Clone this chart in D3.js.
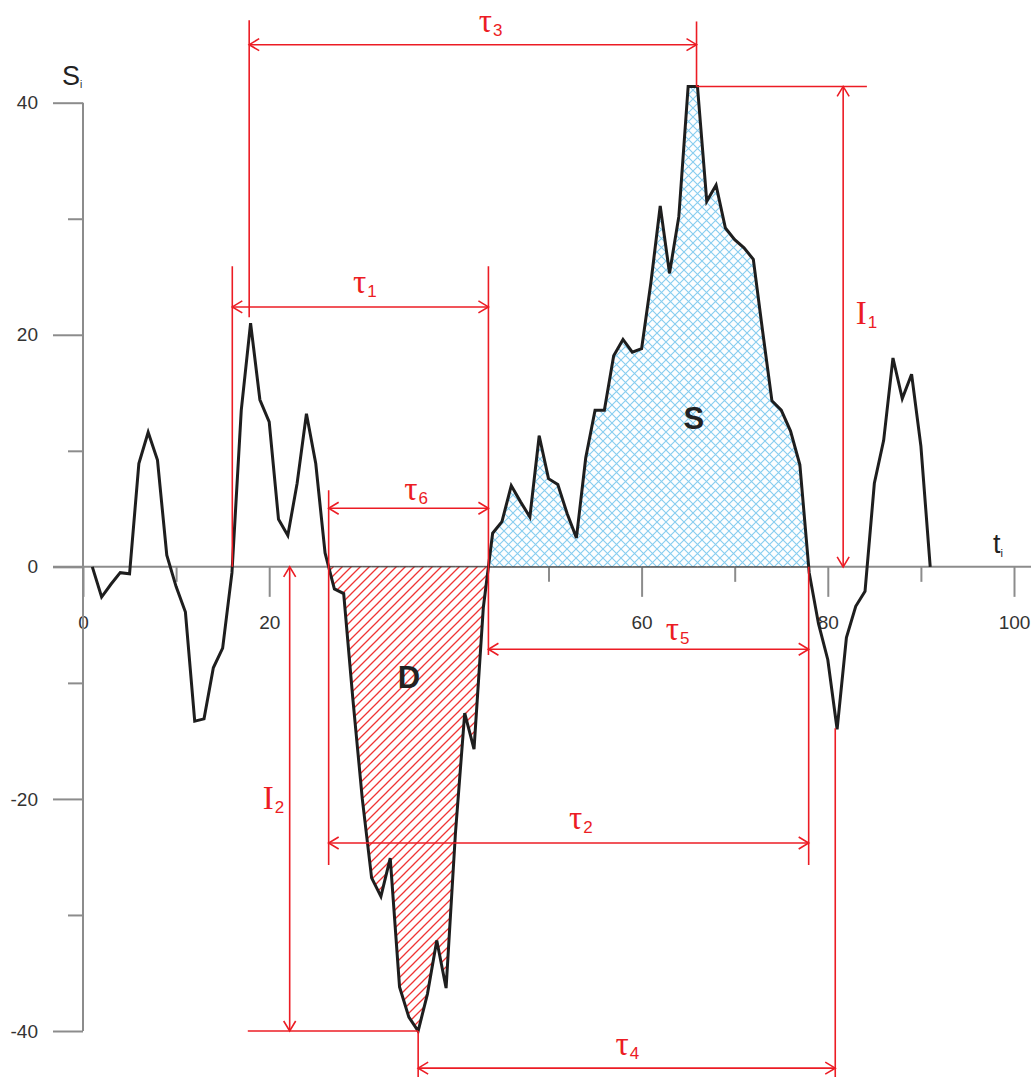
<!DOCTYPE html>
<html>
<head>
<meta charset="utf-8">
<script src="https://cdn.jsdelivr.net/npm/d3@7"></script>
<style>
  body { margin: 0; background: #fff; }
  svg { display: block; }
</style>
</head>
<body>
<div id="chart"></div>
<script>
const width = 1031;
const height = 1077;

// series S_i, one value per t_i = 1..91
const tValues = d3.range(1, 92);
const sValues = [
  0, -2.6, -1.5, -0.5, -0.6, 8.9, 11.6, 9.2, 1.0, -1.7,
  -3.9, -13.3, -13.1, -8.7, -7.0, -0.5, 13.5, 21.0, 14.4, 12.5,
  4.1, 2.7, 7.2, 13.2, 8.9, 1.2, -1.9, -2.3, -11.5, -20.0,
  -26.8, -28.4, -25.1, -36.2, -38.8, -40.0, -36.8, -32.2, -36.3, -23.0,
  -12.6, -15.7, -3.5, 2.9, 3.9, 7.0, 5.6, 4.3, 11.3, 7.6,
  7.1, 4.6, 2.5, 9.4, 13.5, 13.5, 18.2, 19.6, 18.5, 18.8,
  24.5, 31.1, 25.3, 30.2, 41.4, 41.4, 31.5, 32.9, 29.2, 28.2,
  27.5, 26.5, 20.3, 14.3, 13.5, 11.7, 8.8, -0.5, -4.9, -8.0,
  -14.0, -6.1, -3.4, -2.1, 7.2, 10.9, 18.0, 14.5, 16.6, 10.4,
  0
];

const xTicksMajor = [0, 20, 40, 60, 80, 100];
const xTicksMinor = [10, 30, 50, 70, 90];
const yTicksMajor = [-40, -20, 0, 20, 40];
const yTicksMinor = [-30, -10, 10, 30];

const red = "#ec1c24";
const axisGrey = "#8c8c8c";

const x = d3.scaleLinear().domain([0, 100]).range([83, 1014]);
const y = d3.scaleLinear().domain([-40, 40]).range([1031, 102.7]);

const points = tValues.map((t, i) => ({ t: t, s: sValues[i] }));

// zero crossing between t and t+1 (linear)
function zeroCross(t) {
  const a = points.find(p => p.t === t);
  const b = points.find(p => p.t === t + 1);
  return a.t + a.s / (a.s - b.s);
}
function region(t0, t1) {
  const inner = points.filter(p => p.t > t0 && p.t < t1);
  return [{ t: t0, s: 0 }].concat(inner, [{ t: t1, s: 0 }]);
}

const c16 = zeroCross(16), c26 = zeroCross(26), c43 = zeroCross(43), c77 = zeroCross(77);

const svg = d3.select("#chart")
  .append("svg")
  .attr("width", width)
  .attr("height", height);

const defs = svg.append("defs");

const hatchD = defs.append("pattern")
  .attr("id", "hatchD")
  .attr("patternUnits", "userSpaceOnUse")
  .attr("width", 9)
  .attr("height", 9);
hatchD.append("rect").attr("width", 9).attr("height", 9).attr("fill", "#fff");
hatchD.append("path")
  .attr("d", "M-1,1 L1,-1 M0,9 L9,0 M8,10 L10,8")
  .attr("stroke", "#f03434")
  .attr("stroke-width", 1.3);

const crossS = defs.append("pattern")
  .attr("id", "crossS")
  .attr("patternUnits", "userSpaceOnUse")
  .attr("width", 9)
  .attr("height", 9);
crossS.append("rect").attr("width", 9).attr("height", 9).attr("fill", "#fdfeff");
crossS.append("path")
  .attr("d", "M0,0 L9,9 M9,0 L0,9")
  .attr("stroke", "#86cdf0")
  .attr("stroke-width", 1.1);

defs.append("marker")
  .attr("id", "arrow")
  .attr("viewBox", "-13 -8 15 16")
  .attr("refX", 0)
  .attr("refY", 0)
  .attr("markerWidth", 15)
  .attr("markerHeight", 16)
  .attr("markerUnits", "userSpaceOnUse")
  .attr("orient", "auto-start-reverse")
  .append("path")
  .attr("d", "M-10,-6 L0,0 L-10,6")
  .attr("fill", "none")
  .attr("stroke", red)
  .attr("stroke-width", 1.6);

// axes
const plainNum = d => String(d);

const xMajor = svg.append("g")
  .attr("transform", `translate(0,${y(0)})`)
  .call(d3.axisBottom(x).tickValues(xTicksMajor).tickSize(30).tickPadding(19).tickFormat(plainNum));
const xMinor = svg.append("g")
  .attr("transform", `translate(0,${y(0)})`)
  .call(d3.axisBottom(x).tickValues(xTicksMinor).tickSize(15).tickFormat(""));
const yMajor = svg.append("g")
  .attr("transform", `translate(${x(0)},0)`)
  .call(d3.axisLeft(y).tickValues(yTicksMajor).tickSize(30).tickPadding(15).tickFormat(plainNum));
const yMinor = svg.append("g")
  .attr("transform", `translate(${x(0)},0)`)
  .call(d3.axisLeft(y).tickValues(yTicksMinor).tickSize(15).tickFormat(""));

[xMajor, xMinor, yMajor, yMinor].forEach(g => {
  g.select(".domain").remove();
  g.selectAll(".tick line").attr("stroke", axisGrey).attr("stroke-width", 2);
  g.selectAll(".tick text")
    .attr("fill", "#333")
    .style("font-family", "'Liberation Sans', Arial, sans-serif")
    .style("font-size", "19px");
});
xMajor.selectAll(".tick text").attr("dy", "0.71em");

svg.append("line")
  .attr("x1", x(0)).attr("x2", x(0))
  .attr("y1", y(40)).attr("y2", y(-40))
  .attr("stroke", axisGrey).attr("stroke-width", 2);
svg.append("line")
  .attr("x1", x(0) - 30).attr("x2", width)
  .attr("y1", y(0)).attr("y2", y(0))
  .attr("stroke", axisGrey).attr("stroke-width", 2);

// axis titles
const title = svg.append("g")
  .style("font-family", "'Liberation Sans', Arial, sans-serif")
  .attr("fill", "#222");
const sTitle = title.append("text").attr("x", x(0) - 21).attr("y", y(40) - 18).style("font-size", "27px");
sTitle.append("tspan").text("S");
sTitle.append("tspan").attr("dy", 3).style("font-size", "10px").text("i");
const tTitle = title.append("text").attr("x", x(100) - 21).attr("y", y(0) - 14).style("font-size", "27px");
tTitle.append("tspan").text("t");
tTitle.append("tspan").attr("dy", 4).style("font-size", "11px").text("i");

// shaded areas
const area = d3.area()
  .x(d => x(d.t))
  .y0(y(0))
  .y1(d => y(d.s));

svg.append("path")
  .datum(region(c26, c43))
  .attr("d", area)
  .attr("fill", "url(#hatchD)")
  .attr("stroke", "#333")
  .attr("stroke-width", 1);

svg.append("path")
  .datum(region(c43, c77))
  .attr("d", area)
  .attr("fill", "url(#crossS)")
  .attr("stroke", "#333")
  .attr("stroke-width", 1);

// series line
const line = d3.line()
  .x(d => x(d.t))
  .y(d => y(d.s));

svg.append("path")
  .datum(points)
  .attr("d", line)
  .attr("fill", "none")
  .attr("stroke", "#1e1e1e")
  .attr("stroke-width", 3)
  .attr("stroke-linejoin", "miter")
  .attr("stroke-miterlimit", 4);

// region names
svg.selectAll(".region-label")
  .data([{ txt: "S", t: 65.6, s: 12.8 }, { txt: "D", t: 35.0, s: -9.5 }])
  .enter()
  .append("text")
  .attr("class", "region-label")
  .attr("x", d => x(d.t))
  .attr("y", d => y(d.s))
  .attr("text-anchor", "middle")
  .attr("dominant-baseline", "central")
  .attr("fill", "#222")
  .style("font-family", "'Liberation Sans', Arial, sans-serif")
  .style("font-weight", "bold")
  .style("font-size", "31px")
  .text(d => d.txt);

// red dimension lines
const guides = [
  { t0: 17.85, s0: 47.1, t1: 17.85, s1: 21.5 },
  { t0: 65.9, s0: 47.0, t1: 65.9, s1: 41.4 },
  { t0: c16, s0: 25.9, t1: c16, s1: 0 },
  { t0: c43, s0: 25.9, t1: c43, s1: -7.6 },
  { t0: c26, s0: 6.6, t1: c26, s1: -25.7 },
  { t0: c77, s0: 0, t1: c77, s1: -25.7 },
  { t0: 36, s0: -40, t1: 36, s1: -44 },
  { t0: 80.8, s0: -13.9, t1: 80.8, s1: -44 },
  { t0: 65.9, s0: 41.4, t1: 84.2, s1: 41.4 },
  { t0: 17.7, s0: -40, t1: 36, s1: -40 }
];

const dims = [
  { t0: 17.85, s0: 45.0, t1: 65.9, s1: 45.0 },
  { t0: c16, s0: 22.4, t1: c43, s1: 22.4 },
  { t0: c26, s0: 5.05, t1: c43, s1: 5.05 },
  { t0: c43, s0: -7.1, t1: c77, s1: -7.1 },
  { t0: c26, s0: -23.8, t1: c77, s1: -23.8 },
  { t0: 36, s0: -43.2, t1: 80.8, s1: -43.2 },
  { t0: 81.65, s0: 41.4, t1: 81.65, s1: 0 },
  { t0: 22.2, s0: 0, t1: 22.2, s1: -40 }
];

const ann = svg.append("g").attr("stroke", red).attr("stroke-width", 1.6).attr("fill", "none");

ann.selectAll(".guide")
  .data(guides)
  .enter()
  .append("line")
  .attr("class", "guide")
  .attr("x1", d => x(d.t0)).attr("y1", d => y(d.s0))
  .attr("x2", d => x(d.t1)).attr("y2", d => y(d.s1));

ann.selectAll(".dim")
  .data(dims)
  .enter()
  .append("line")
  .attr("class", "dim")
  .attr("x1", d => x(d.t0)).attr("y1", d => y(d.s0))
  .attr("x2", d => x(d.t1)).attr("y2", d => y(d.s1))
  .attr("marker-start", "url(#arrow)")
  .attr("marker-end", "url(#arrow)");

// labels tau_k, I_k
const labels = [
  { sym: "\u03c4", sub: "3", t: 42.5, s: 46.1 },
  { sym: "\u03c4", sub: "1", t: 29.0, s: 23.6 },
  { sym: "\u03c4", sub: "6", t: 34.5, s: 5.8 },
  { sym: "\u03c4", sub: "5", t: 62.6, s: -6.3 },
  { sym: "\u03c4", sub: "2", t: 52.2, s: -22.6 },
  { sym: "\u03c4", sub: "4", t: 57.2, s: -42.1 },
  { sym: "I", sub: "1", t: 83.0, s: 20.9 },
  { sym: "I", sub: "2", t: 19.3, s: -20.9 }
];

const lab = svg.selectAll(".dim-label")
  .data(labels)
  .enter()
  .append("text")
  .attr("class", "dim-label")
  .attr("x", d => x(d.t))
  .attr("y", d => y(d.s))
  .attr("fill", red);

lab.append("tspan")
  .style("font-family", "'Liberation Serif', 'Times New Roman', serif")
  .style("font-size", "33px")
  .text(d => d.sym);
lab.append("tspan")
  .attr("dy", 4)
  .attr("dx", 1)
  .style("font-family", "'Liberation Sans', Arial, sans-serif")
  .style("font-size", "17px")
  .text(d => d.sub);
</script>
</body>
</html>
